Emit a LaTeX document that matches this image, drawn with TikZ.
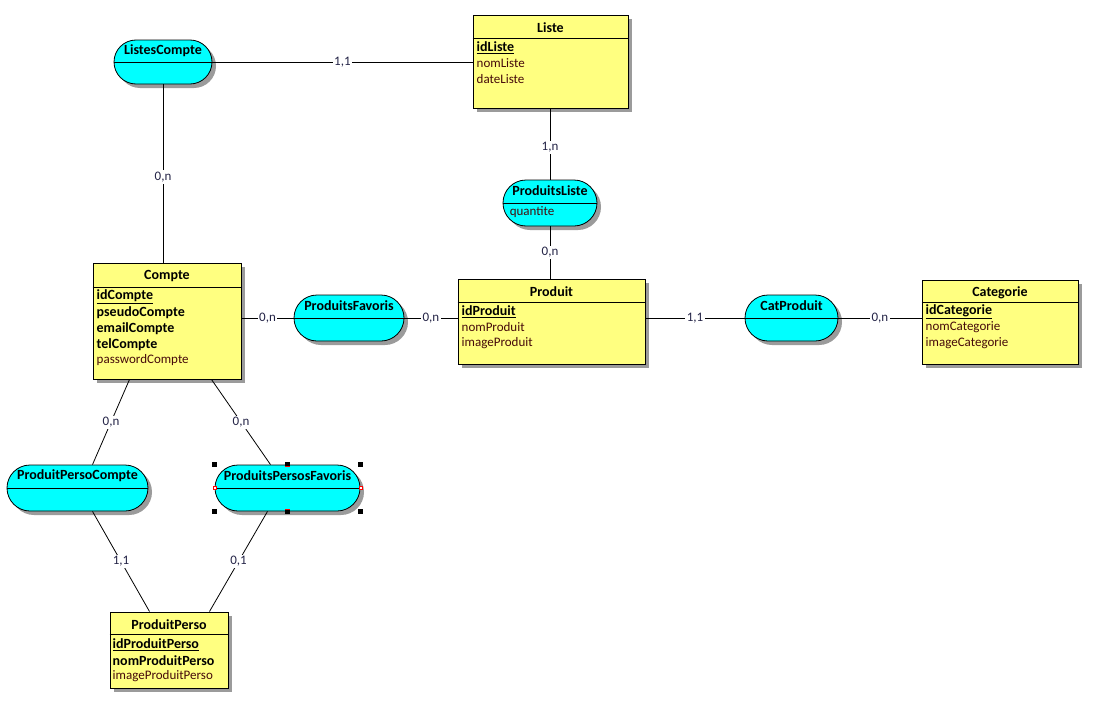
\documentclass[tikz,border=0pt]{standalone}
\usepackage{fontspec}
\setmainfont{Carlito}
\usepackage{tikz}
\usetikzlibrary{positioning,calc,shadows}
\definecolor{jaune}{RGB}{255,255,128}
\definecolor{bleuasso}{RGB}{0,255,255}
\definecolor{ombre}{RGB}{155,155,155}
\definecolor{txtattr}{RGB}{70,10,10}
\definecolor{txtcard}{RGB}{35,35,70}
\newcommand{\taille}{\fontsize{13}{15}\selectfont}
\newcommand{\tailleb}{\fontsize{14}{16}\selectfont\bfseries}

\begin{document}
\begin{tikzpicture}[
  x=1pt, y=-1pt,
  font=\taille,
  entite/.style={draw,line width=1pt,fill=jaune,inner sep=0pt,
    drop shadow={shadow xshift=4pt,shadow yshift=-4pt,fill=ombre,opacity=1}},
  asso/.style={draw,line width=0.8pt,fill=bleuasso,inner sep=0pt,
    minimum height=46pt,rounded corners=23pt,
    drop shadow={shadow xshift=4pt,shadow yshift=-4pt,fill=ombre,opacity=1}},
  titre/.style={font=\tailleb,inner sep=0pt},
  attr/.style={anchor=west,inner sep=0pt,text=txtattr},
  attrb/.style={attr,text=black,font=\tailleb},
  sep/.style={line width=0.8pt},
  lien/.style={line width=0.8pt},
  card/.style={fill=white,inner sep=1.5pt,text=txtcard},
  poignee/.style={fill=black},
]
  \fill[white] (0,0) rectangle (1100,712);
  \useasboundingbox (0,0) rectangle (1100,712);

  % entities
  \node[entite,minimum width=155pt,minimum height=93pt] (liste) at (550.5,61.5) {};
  \node[titre] (listeT) at ($(liste.north)+(0,13)$) {Liste};
  \draw[sep] ($(liste.north west)+(0,24)$) -- ($(liste.north east)+(0,24)$);
  \node[attrb] (idListe) at ($(liste.north west)+(4,33)$) {\underline{idListe}};
  \node[attr] (nomListe) at ($(liste.north west)+(4,49)$) {nomListe};
  \node[attr] (dateListe) at ($(liste.north west)+(4,65)$) {dateListe};

  \node[entite,minimum width=148pt,minimum height=116pt] (compte) at (167,321) {};
  \node[titre] (compteT) at ($(compte.north)+(0,14)$) {Compte};
  \draw[sep] ($(compte.north west)+(0,25)$) -- ($(compte.north east)+(0,25)$);
  \node[attrb] (idCompte) at ($(compte.north west)+(4,34)$) {\underline{idCompte}};
  \node[attrb] (pseudoCompte) at ($(compte.north west)+(4,50)$) {pseudoCompte};
  \node[attrb] (emailCompte) at ($(compte.north west)+(4,66)$) {emailCompte};
  \node[attrb] (telCompte) at ($(compte.north west)+(4,82)$) {telCompte};
  \node[attr] (passwordCompte) at ($(compte.north west)+(4,98)$) {passwordCompte};

  \node[entite,minimum width=187pt,minimum height=85pt] (produit) at (551.5,321.5) {};
  \node[titre] (produitT) at ($(produit.north)+(0,13.5)$) {Produit};
  \draw[sep] ($(produit.north west)+(0,24)$) -- ($(produit.north east)+(0,24)$);
  \node[attrb] (idProduit) at ($(produit.north west)+(4,33)$) {\underline{idProduit}};
  \node[attr] (nomProduit) at ($(produit.north west)+(4,49)$) {nomProduit};
  \node[attr] (imageProduit) at ($(produit.north west)+(4,65)$) {imageProduit};

  \node[entite,minimum width=156pt,minimum height=84pt] (categorie) at (1000,322) {};
  \node[titre] (categorieT) at ($(categorie.north)+(0,13)$) {Categorie};
  \draw[sep] ($(categorie.north west)+(0,23)$) -- ($(categorie.north east)+(0,23)$);
  \node[attrb] (idCategorie) at ($(categorie.north west)+(4,32)$) {\underline{idCategorie}};
  \node[attr] (nomCategorie) at ($(categorie.north west)+(4,48)$) {nomCategorie};
  \node[attr] (imageCategorie) at ($(categorie.north west)+(4,64)$) {imageCategorie};

  \node[entite,minimum width=118pt,minimum height=76pt] (produitPerso) at (169,650) {};
  \node[titre] (produitPersoT) at ($(produitPerso.north)+(0,13)$) {ProduitPerso};
  \draw[sep] ($(produitPerso.north west)+(0,23)$) -- ($(produitPerso.north east)+(0,23)$);
  \node[attrb] (idProduitPerso) at ($(produitPerso.north west)+(3,33)$) {\underline{idProduitPerso}};
  \node[attrb] (nomProduitPerso) at ($(produitPerso.north west)+(3,49)$) {nomProduitPerso};
  \node[attr] (imageProduitPerso) at ($(produitPerso.north west)+(3,65)$) {imageProduitPerso};

  % associations
  \node[asso,minimum width=98pt,minimum height=44pt,rounded corners=22pt] (listesCompte) at (163,62) {};
  \node[titre] at ($(listesCompte.north)+(0,11)$) {ListesCompte};
  \draw[sep] (listesCompte.west) -- (listesCompte.east);

  \node[asso,minimum width=94pt] (produitsListe) at (550,203) {};
  \node[titre] at ($(produitsListe.north)+(0,11)$) {ProduitsListe};
  \draw[sep] (produitsListe.west) -- (produitsListe.east);
  \node[attr] (quantite) at ($(produitsListe.west)+(7,9)$) {quantite};

  \node[asso,minimum width=110pt] (produitsFavoris) at (349,318) {};
  \node[titre] at ($(produitsFavoris.north)+(0,11)$) {ProduitsFavoris};
  \draw[sep] (produitsFavoris.west) -- (produitsFavoris.east);

  \node[asso,minimum width=93pt] (catProduit) at (791.5,318) {};
  \node[titre] at ($(catProduit.north)+(0,11)$) {CatProduit};
  \draw[sep] (catProduit.west) -- (catProduit.east);

  \node[asso,minimum width=141pt] (produitPersoCompte) at (77.5,488) {};
  \node[titre] at ($(produitPersoCompte.north)+(0,11)$) {ProduitPersoCompte};
  \draw[sep] (produitPersoCompte.west) -- (produitPersoCompte.east);

  \node[asso,minimum width=145pt] (produitsPersosFavoris) at (287.5,488) {};
  \node[titre] at ($(produitsPersosFavoris.north)+(0,11)$) {ProduitsPersosFavoris};
  \draw[sep] (produitsPersosFavoris.west) -- (produitsPersosFavoris.east);

  % links
  \draw[lien] (listesCompte.east) -- (liste.west |- listesCompte.east) node[card,pos=.5] {1,1};
  \draw[lien] (listesCompte.south) -- (compte.north -| listesCompte.south) node[card,pos=.52] {0,n};
  \draw[lien] (liste.south -| produitsListe.north) -- (produitsListe.north) node[card,pos=.55] {1,n};
  \draw[lien] (produitsListe.south) -- (produit.north -| produitsListe.south) node[card,pos=.5] {0,n};
  \draw[lien] (compte.east |- produitsFavoris.west) -- (produitsFavoris.west) node[card,pos=.5] {0,n};
  \draw[lien] (produitsFavoris.east) -- (produit.west |- produitsFavoris.east) node[card,pos=.5] {0,n};
  \draw[lien] (produit.east |- catProduit.west) -- (catProduit.west) node[card,pos=.5] {1,1};
  \draw[lien] (catProduit.east) -- (categorie.west |- catProduit.east) node[card,pos=.5] {0,n};
  \draw[lien] ($(compte.south west)+(37,0)$) -- ($(produitPersoCompte.north)+(15,0)$) node[card,pos=.5] {0,n};
  \draw[lien] ($(compte.south west)+(119,0)$) -- ($(produitsPersosFavoris.north)+(-17,0)$) node[card,pos=.5] {0,n};
  \draw[lien] ($(produitPersoCompte.south)+(15,0)$) -- ($(produitPerso.north west)+(40,0)$) node[card,pos=.5] {1,1};
  \draw[lien] ($(produitsPersosFavoris.south)+(-20,0)$) -- ($(produitPerso.north west)+(100,0)$) node[card,pos=.5] {0,1};

  % selection handles
  \foreach \a in {north west,north,north east,south west,south,south east}
    \fill[poignee] ($(produitsPersosFavoris.\a)+(-2.5,-2.5)$) rectangle ++(5,5);
  \draw[red,line width=0.8pt] ($(produitsPersosFavoris.north)+(-2.5,2)$) -- ++(5,0);
  \draw[red,line width=0.8pt] ($(produitsPersosFavoris.south)+(-2.5,-2)$) -- ++(5,0);
  \draw[red,fill=white,line width=0.6pt] ($(produitsPersosFavoris.west)+(-1.5,-1.5)$) rectangle ++(3,3);
  \draw[red,fill=white,line width=0.6pt] ($(produitsPersosFavoris.east)+(-1.5,-1.5)$) rectangle ++(3,3);
\end{tikzpicture}
\end{document}
